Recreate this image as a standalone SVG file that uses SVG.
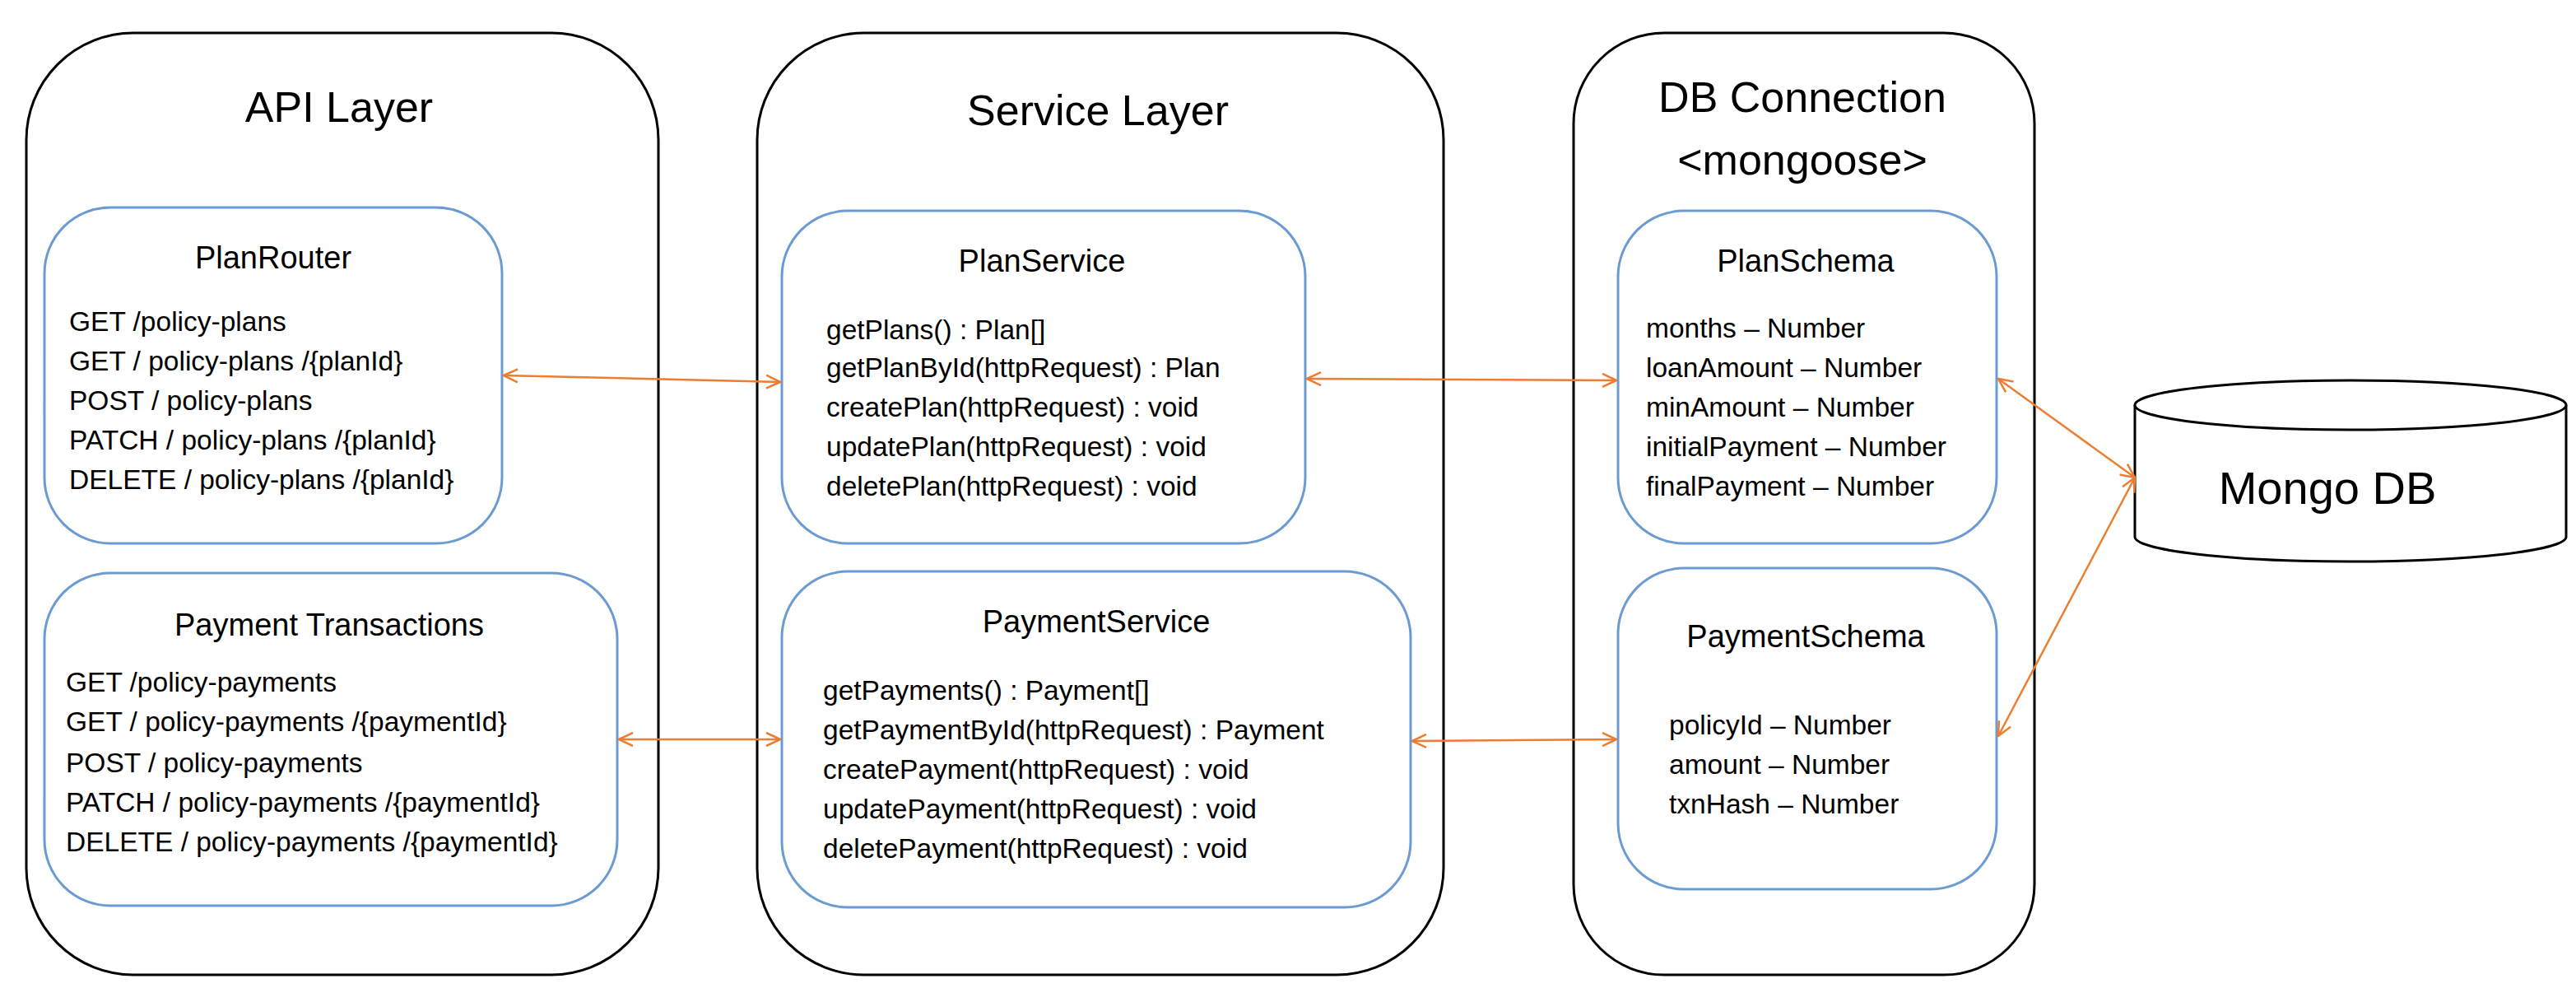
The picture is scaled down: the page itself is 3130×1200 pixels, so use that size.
<svg xmlns="http://www.w3.org/2000/svg" width="3130" height="1200" viewBox="0 0 3130 1200">
<defs>
<marker id="ah" viewBox="0 0 20 20" refX="19" refY="10" markerWidth="20" markerHeight="20" markerUnits="userSpaceOnUse" orient="auto-start-reverse">
<path d="M2,2 L19,10 L2,18" fill="none" stroke="#ED7D31" stroke-width="2.5"/>
</marker>
<style>
.layer{fill:#fff;stroke:#000;stroke-width:3}
.box{fill:#fff;stroke:#6C9BD2;stroke-width:3}
text{font-family:"Liberation Sans",Arial,sans-serif;fill:#000}
.lt{font-size:52px;text-anchor:middle}
.bt{font-size:38px;text-anchor:middle}
.ln{font-size:33.5px}
.conn line{stroke:#ED7D31;stroke-width:2.5;marker-start:url(#ah);marker-end:url(#ah)}
</style>
</defs>
<rect width="3130" height="1200" fill="#fff"/>
<g id="api-layer"><rect class="layer" x="32" y="40" width="768" height="1144" rx="130"/><text class="lt" x="412" y="148">API Layer</text></g>
<g id="service-layer"><rect class="layer" x="920" y="40" width="834" height="1144" rx="130"/><text class="lt" x="1334" y="152">Service Layer</text></g>
<g id="db-layer"><rect class="layer" x="1912" y="40" width="560" height="1144" rx="110"/><text class="lt" x="2190" y="136">DB Connection</text><text class="lt" x="2190" y="212">&lt;mongoose&gt;</text></g>

<g id="planrouter"><rect class="box" x="54" y="252" width="556" height="408" rx="80"/>
<text class="bt" x="332" y="326">PlanRouter</text>
<text class="ln" x="84" y="402">GET /policy-plans</text>
<text class="ln" x="84" y="450">GET / policy-plans /{planId}</text>
<text class="ln" x="84" y="498">POST / policy-plans</text>
<text class="ln" x="84" y="546">PATCH / policy-plans /{planId}</text>
<text class="ln" x="84" y="594">DELETE / policy-plans /{planId}</text></g>

<g id="payment-transactions"><rect class="box" x="54" y="696" width="696" height="404" rx="80"/>
<text class="bt" x="400" y="772">Payment Transactions</text>
<text class="ln" x="80" y="840">GET /policy-payments</text>
<text class="ln" x="80" y="888">GET / policy-payments /{paymentId}</text>
<text class="ln" x="80" y="938">POST / policy-payments</text>
<text class="ln" x="80" y="986">PATCH / policy-payments /{paymentId}</text>
<text class="ln" x="80" y="1034">DELETE / policy-payments /{paymentId}</text></g>

<g id="planservice"><rect class="box" x="950" y="256" width="636" height="404" rx="80"/>
<text class="bt" x="1266" y="330">PlanService</text>
<text class="ln" x="1004" y="412">getPlans() : Plan[]</text>
<text class="ln" x="1004" y="458">getPlanById(httpRequest) : Plan</text>
<text class="ln" x="1004" y="506">createPlan(httpRequest) : void</text>
<text class="ln" x="1004" y="554">updatePlan(httpRequest) : void</text>
<text class="ln" x="1004" y="602">deletePlan(httpRequest) : void</text></g>

<g id="paymentservice"><rect class="box" x="950" y="694" width="764" height="408" rx="80"/>
<text class="bt" x="1332" y="768">PaymentService</text>
<text class="ln" x="1000" y="850">getPayments() : Payment[]</text>
<text class="ln" x="1000" y="898">getPaymentById(httpRequest) : Payment</text>
<text class="ln" x="1000" y="946">createPayment(httpRequest) : void</text>
<text class="ln" x="1000" y="994">updatePayment(httpRequest) : void</text>
<text class="ln" x="1000" y="1042">deletePayment(httpRequest) : void</text></g>

<g id="planschema"><rect class="box" x="1966" y="256" width="460" height="404" rx="80"/>
<text class="bt" x="2194" y="330">PlanSchema</text>
<text class="ln" x="2000" y="410">months – Number</text>
<text class="ln" x="2000" y="458">loanAmount – Number</text>
<text class="ln" x="2000" y="506">minAmount – Number</text>
<text class="ln" x="2000" y="554">initialPayment – Number</text>
<text class="ln" x="2000" y="602">finalPayment – Number</text></g>

<g id="paymentschema"><rect class="box" x="1966" y="690" width="460" height="390" rx="80"/>
<text class="bt" x="2194" y="786">PaymentSchema</text>
<text class="ln" x="2028" y="892">policyId – Number</text>
<text class="ln" x="2028" y="940">amount – Number</text>
<text class="ln" x="2028" y="988">txnHash – Number</text></g>

<g id="mongodb">
<path d="M2594,492 L2594,652 A262,30 0 0 0 3118,652 L3118,492" fill="#fff" stroke="#000" stroke-width="3"/>
<ellipse cx="2856" cy="492" rx="262" ry="30" fill="#fff" stroke="#000" stroke-width="3"/>
<text x="2828" y="612" font-size="56" text-anchor="middle">Mongo DB</text></g>

<g id="connectors" class="conn">
<line x1="612" y1="456" x2="948" y2="464"/>
<line x1="1588" y1="460" x2="1964" y2="462"/>
<line x1="752" y1="898" x2="948" y2="898"/>
<line x1="1716" y1="900" x2="1964" y2="898"/>
<line x1="2428" y1="460" x2="2594" y2="580"/>
<line x1="2428" y1="894" x2="2594" y2="580"/>
</g>
</svg>
